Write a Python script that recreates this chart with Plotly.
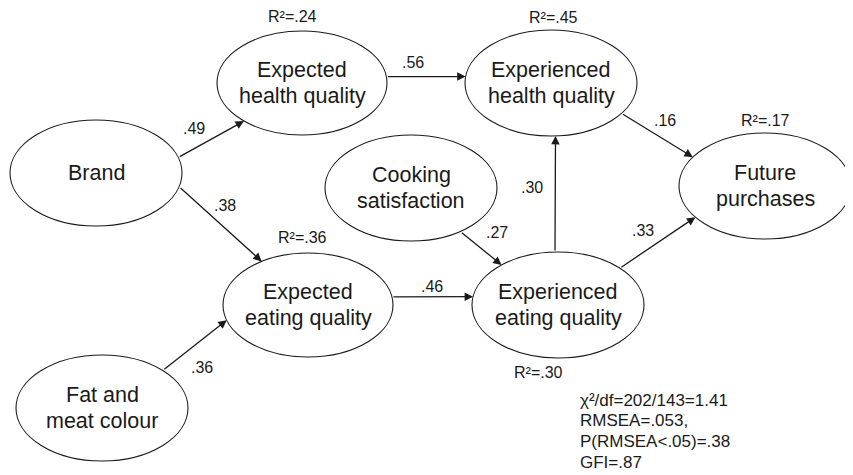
import math
import plotly.graph_objects as go

# ---- diagram data ----
node_lines = [["Brand"], ["Expected", "health quality"], ["Experienced", "health quality"],
              ["Future", "purchases"], ["Cooking", "satisfaction"], ["Expected", "eating quality"],
              ["Experienced", "eating quality"], ["Fat and", "meat colour"]]
node_x = [96, 302, 551, 765, 411, 308, 558, 102]
node_y = [173, 83, 83, 186, 188, 305, 305, 408]
node_rx = [86, 85, 86, 86, 86, 85, 86, 86]
node_ry = [53, 52, 53, 53, 53, 52, 53, 53]

# R-squared per node (None where not reported) and label offsets
r2_values = [None, ".24", ".45", ".17", None, ".36", ".30", None]
r2_dx = [0, -10, 2, 0, 0, -6, -20, 0]
r2_dy = [0, -67, -66, -66, 0, -68, 67, 0]

# paths: source, target, coefficient, start angle, end angle, label position
edge_src = [0, 0, 1, 2, 7, 5, 4, 6, 6]
edge_dst = [1, 5, 2, 3, 5, 6, 6, 2, 3]
edge_coef = [".49", ".38", ".56", ".16", ".36", ".46", ".27", ".30", ".33"]
edge_a0 = [-17, 15, -7, 35, -45, -9, 55, -92, -44]
edge_a1 = [133, -123, 187, -147, 163, 189, -131, 87, 144]
edge_lx = [194, 225, 413, 665, 202, 432, 497, 532, 643]
edge_ly = [128, 205, 62, 120, 367, 286, 232, 187, 230]

fit_lines = ["χ²/df=202/143=1.41", "RMSEA=.053,", "P(RMSEA<.05)=.38", "GFI=.87"]

FONT = "Liberation Sans, Arial, sans-serif"
INK = "#1a1a1a"
OFF = 8  # page body margin of the html page

def pt(i, ang):
    a = math.radians(ang)
    return node_x[i] + node_rx[i] * math.cos(a), node_y[i] + node_ry[i] * math.sin(a)

fig = go.Figure()
shapes = []
annotations = []

def label(x, y, text, size, xanchor="center"):
    annotations.append(dict(x=x, y=y, xref="x", yref="y", text=text, showarrow=False,
                            font=dict(family=FONT, size=size, color=INK),
                            xanchor=xanchor, yanchor="middle"))

for i, lines in enumerate(node_lines):
    shapes.append(dict(type="circle", xref="x", yref="y",
                       x0=node_x[i] - node_rx[i], x1=node_x[i] + node_rx[i],
                       y0=node_y[i] - node_ry[i], y1=node_y[i] + node_ry[i],
                       line=dict(color=INK, width=1.1), fillcolor="white", layer="below"))
    n = len(lines)
    for j, ln in enumerate(lines):
        label(node_x[i], node_y[i] + (j - (n - 1) / 2) * 26, ln, 21.5)
    if r2_values[i] is not None:
        label(node_x[i] + r2_dx[i], node_y[i] + r2_dy[i], "R²=" + r2_values[i], 16)

for k in range(len(edge_src)):
    x0, y0 = pt(edge_src[k], edge_a0[k])
    x1, y1 = pt(edge_dst[k], edge_a1[k])
    annotations.append(dict(x=x1, y=y1, ax=x0, ay=y0, xref="x", yref="y", axref="x", ayref="y",
                            text="", showarrow=True, arrowhead=2, arrowsize=1.3, arrowwidth=1.3,
                            arrowcolor=INK, standoff=0, startstandoff=0))
    label(edge_lx[k], edge_ly[k], edge_coef[k], 16)

for j, ln in enumerate(fit_lines):
    label(578, 400 + j * 20.7, ln, 17, xanchor="left")

fig.update_layout(
    width=853 - OFF, height=475 - OFF,
    margin=dict(l=0, r=0, t=0, b=0),
    paper_bgcolor="white", plot_bgcolor="white",
    xaxis=dict(range=[OFF, 853], visible=False, fixedrange=True),
    yaxis=dict(range=[475, OFF], visible=False, fixedrange=True),
    shapes=shapes, annotations=annotations, showlegend=False,
)

fig.write_html("out.html")
